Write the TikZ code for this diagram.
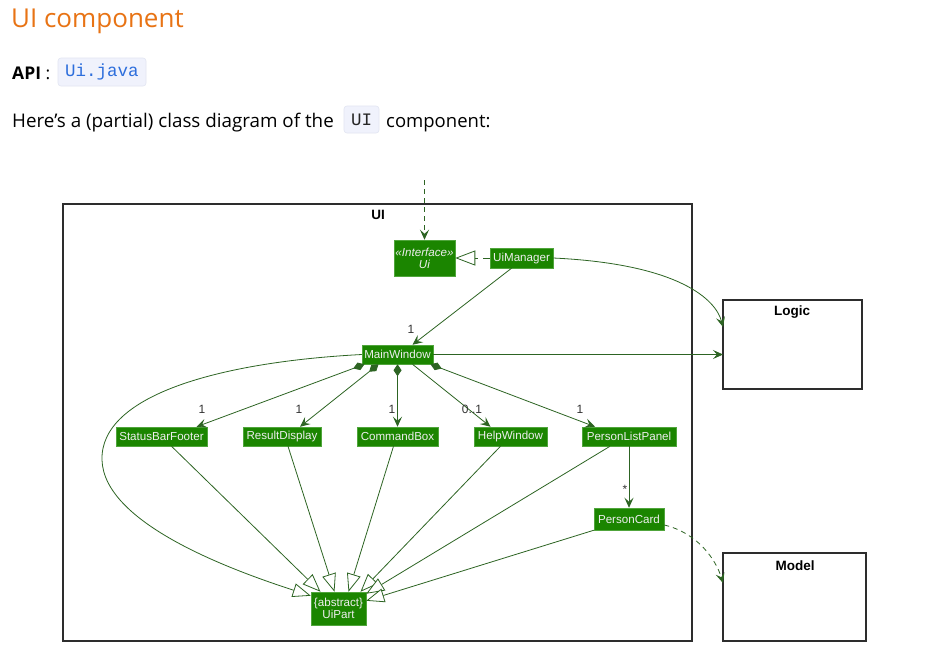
\documentclass[tikz,border=0pt]{standalone}
\usepackage{fontspec}
\setmainfont{Open Sans}
\newfontfamily\umlfont{Liberation Sans}
\setmonofont{Liberation Mono}
\usetikzlibrary{arrows.meta,calc}
\definecolor{titleorange}{RGB}{232,115,20}
\definecolor{umlfill}{RGB}{27,133,0}
\definecolor{umlborder}{RGB}{80,165,60}
\definecolor{edgegreen}{RGB}{45,100,35}
\definecolor{nodetext}{RGB}{238,238,238}
\definecolor{codebg}{RGB}{240,242,252}
\definecolor{codeborder}{RGB}{226,229,242}
\definecolor{codeblue}{RGB}{45,110,220}
\definecolor{pkgline}{RGB}{45,45,45}
\begin{document}
\begin{tikzpicture}[x=1pt,y=-1pt,
  cls/.style={fill=umlfill,draw=umlborder,line width=0.5pt,text=nodetext,
    font=\umlfont\fontsize{11.6}{13}\selectfont,inner sep=1pt,align=center},
  pkg/.style={draw=pkgline,line width=1.2pt},
  pkgtitle/.style={font=\umlfont\bfseries\fontsize{13.5}{15}\selectfont,text=black},
  mult/.style={font=\umlfont\fontsize{12}{14}\selectfont,text=black!80,inner sep=0pt},
  assoc/.style={draw=edgegreen,line width=0.8pt,-{Stealth[length=10pt,width=9pt,inset=4pt]}},
  comp/.style={draw=edgegreen,line width=0.8pt,{Diamond[length=12pt,width=8pt,fill=edgegreen]}-{Stealth[length=10pt,width=9pt,inset=4pt]}},
  gen/.style={draw=edgegreen,line width=0.8pt,-{Triangle[length=18pt,width=14pt,fill=white]}},
  dep/.style={draw=edgegreen,line width=0.8pt,dash pattern=on 5pt off 4pt,-{Stealth[length=10pt,width=9pt,inset=4pt]}},
  code/.style={fill=codebg,draw=codeborder,line width=0.6pt,rounded corners=3pt,
    font=\ttfamily\fontsize{17.5}{19}\selectfont,inner sep=0pt}
]
\useasboundingbox[fill=white] (0,0) rectangle (939,662);

% header text
\node[anchor=base west,inner sep=0pt,text=titleorange,font=\fontsize{26}{30}\selectfont] (title) at (11,27) {UI component};
\node[anchor=base west,inner sep=0pt,font=\fontsize{17.5}{20}\selectfont] (api) at (12,79) {\textbf{API} :};
\node[code,text=codeblue,minimum width=88pt,minimum height=28pt] (uijava) at (102,72) {Ui.java};
\node[anchor=base west,inner sep=0pt,font=\fontsize{18.8}{22}\selectfont] (sent1) at (12,127) {Here’s a (partial) class diagram of the};
\node[code,text=black!85,minimum width=35pt,minimum height=27pt] (uicode) at (361.5,119.5) {UI};
\node[anchor=base west,inner sep=0pt,font=\fontsize{18.5}{22}\selectfont] (sent2) at (386,127) {component:};

% packages
\draw[pkg] (63,204) rectangle (692,641);
\node[pkgtitle] (uititle) at (378,215) {UI};
\draw[pkg] (723,300) rectangle (862,389);
\node[pkgtitle] (logictitle) at (792,312) {Logic};
\coordinate (logicNW) at (723,300);
\draw[pkg] (723,553) rectangle (866,641);
\node[pkgtitle] (modeltitle) at (795,566) {Model};
\coordinate (modelNW) at (723,553);

% classes
\node[cls,minimum width=61pt,minimum height=36pt] (ui) at (424.5,258) {\textit{«Interface»}\\[-1pt]\textit{Ui}};
\node[cls,minimum width=63pt,minimum height=20pt] (um) at (521.5,258) {UiManager};
\node[cls,minimum width=71pt,minimum height=19pt] (mw) at (397.5,354.5) {MainWindow};
\node[cls,minimum width=91pt,minimum height=19pt] (sbf) at (161.5,436.5) {StatusBarFooter};
\node[cls,minimum width=78pt,minimum height=19pt] (rd) at (282,436.5) {ResultDisplay};
\node[cls,minimum width=81pt,minimum height=19pt] (cb) at (397.5,436.5) {CommandBox};
\node[cls,minimum width=73pt,minimum height=19pt] (hw) at (510.5,436.5) {HelpWindow};
\node[cls,minimum width=94pt,minimum height=19pt] (plp) at (629,436.5) {PersonListPanel};
\node[cls,minimum width=70pt,minimum height=22pt] (pc) at (629,519) {PersonCard};
\node[cls,minimum width=55pt,minimum height=33pt] (up) at (338.5,608.5) {\{abstract\}\\[-1pt]UiPart};

% external dependency into Ui
\coordinate (topin) at (424.5,180);
\draw[dep] (topin) -- (ui.north);

% realization
\draw[draw=edgegreen,line width=0.8pt,dash pattern=on 7pt off 5pt,-{Triangle[length=20pt,width=15pt,fill=white]}] (um.west) -- (ui.east);

% UiManager -> MainWindow
\draw[assoc] ([xshift=-10pt]um.south) -- ([xshift=15pt]mw.north);
\node[mult] (m1) at (411,329) {1};

% UiManager -> Logic
\draw[assoc] (um.east) .. controls (680,264) and (716,300) .. ($(logicNW)+(0,27)$);
% MainWindow -> Logic
\draw[assoc] (mw.east) -- (mw.east -| logicNW);

% compositions
\draw[comp] ([xshift=-33pt]mw.south) -- ([xshift=35pt]sbf.north);
\node[mult] (m2) at (202,409) {1};
\draw[comp] ([xshift=-19pt]mw.south) -- ([xshift=18pt]rd.north);
\node[mult] (m3) at (299,409) {1};
\draw[comp] (mw.south) -- (cb.north);
\node[mult] (m4) at (392,409) {1};
\draw[assoc] ([xshift=15pt]mw.south) -- ([xshift=-20pt]hw.north);
\node[mult] (m5) at (472,409) {0..1};
\draw[comp] ([xshift=33pt]mw.south) -- ([xshift=-34pt]plp.north);
\node[mult] (m6) at (580,409) {1};

% PersonListPanel -> PersonCard
\draw[assoc] (plp.south) -- (pc.north);
\node[mult] (m7) at (625,489) {*};

% PersonCard -> Model
\draw[dep] ([yshift=-6pt]pc.east) .. controls (698,533) and (716,560) .. ($(modelNW)+(0,30)$);

% generalizations to UiPart
\draw[gen] (mw.west) .. controls (220,362) and (100,395) .. (102,460)
   .. controls (104,522) and (225,568) .. ([yshift=-4pt]up.north west);
\draw[gen] ([xshift=10pt]sbf.south) -- ([xshift=-18pt]up.north);
\draw[gen] ([xshift=6pt]rd.south) -- ([xshift=-4pt]up.north);
\draw[gen] ([xshift=-4pt]cb.south) -- ([xshift=10pt]up.north);
\draw[gen] ([xshift=-10pt]hw.south) -- ([xshift=22pt]up.north);
\draw[gen] ([xshift=-19pt]plp.south) -- ([yshift=-2pt]up.north east);
\draw[gen] (pc.south west) -- ([yshift=-9pt]up.north east);
\end{tikzpicture}
\end{document}
